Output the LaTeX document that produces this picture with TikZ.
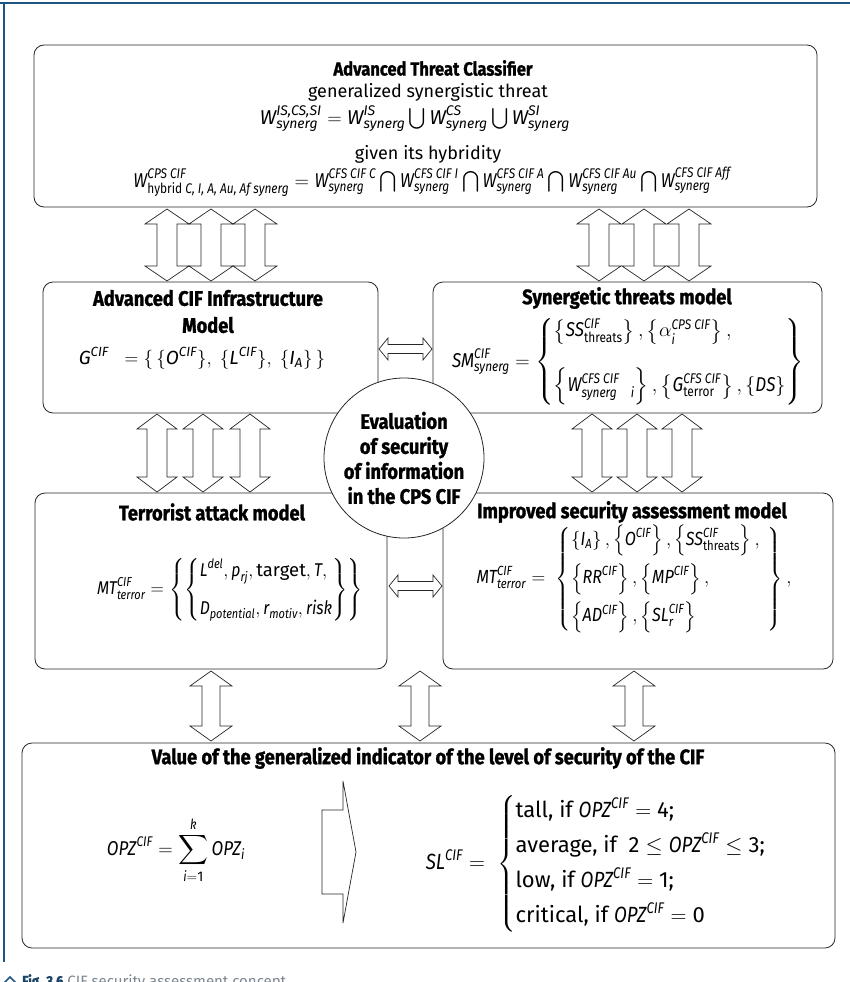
\RequirePackage{fix-cm}
\documentclass[tikz,border=0pt]{standalone}
\usepackage{amsmath}
\usepackage{fontspec}
\setmainfont{Fira Sans}[BoldFeatures={FakeStretch=0.87, FakeBold=1.2}]
\newfontfamily\fmfam{Fira Sans}[FakeStretch=0.85]
\newfontfamily\fmwfam{Fira Sans}
\newcommand\vi[1]{\text{\fmfam\itshape #1}}
\newcommand\vu[1]{\text{\fmfam #1}}
\definecolor{frameblue}{HTML}{1F5582}
\definecolor{capgray}{HTML}{7A8590}
\tikzset{
  frame/.style={draw=frameblue, line width=2.4pt},
  box/.style={draw=black!85, line width=0.8pt, rounded corners=10pt, fill=white, inner sep=0pt, outer sep=0pt},
  circ/.style={draw=black!85, line width=0.8pt, circle, fill=white, inner sep=0pt, align=center,
     font=\fontsize{21}{25}\selectfont\bfseries},
  ttl/.style={font=\fontsize{21}{27}\selectfont\bfseries, align=center, inner sep=0pt},
  txt/.style={font=\fontsize{18}{22}\selectfont, inner sep=0pt},
  fm/.style={font=\fontsize{20}{24}\selectfont, inner sep=0pt},
  blk/.style={draw=black!85, line width=0.7pt, fill=white, line join=miter},
}
% vertical double block arrow: x, ytop, ybottom, half head, half shaft, head length
\newcommand\dblV[6]{%
  \draw[blk] (#1,#2) -- (#1+#4,#2+#6) -- (#1+#5,#2+#6) -- (#1+#5,#3-#6) -- (#1+#4,#3-#6) -- (#1,#3)
    -- (#1-#4,#3-#6) -- (#1-#5,#3-#6) -- (#1-#5,#2+#6) -- (#1-#4,#2+#6) -- cycle;}
% horizontal double block arrow: y, xleft, xright, half head, half shaft, head length
\newcommand\dblH[6]{%
  \draw[blk] (#2,#1) -- (#2+#6,#1-#4) -- (#2+#6,#1-#5) -- (#3-#6,#1-#5) -- (#3-#6,#1-#4) -- (#3,#1)
    -- (#3-#6,#1+#4) -- (#3-#6,#1+#5) -- (#2+#6,#1+#5) -- (#2+#6,#1+#4) -- cycle;}
\begin{document}
\begin{tikzpicture}[x=1pt,y=-1pt]
\useasboundingbox (0,0) rectangle (850,982);
% frame
\draw[frame] (0,3) -- (850,3);
\draw[frame] (4,3) -- (4,962);

% ---------- top box ----------
\node[box, minimum width=783pt, minimum height=162pt] (top) at (425.5,126) {};
\node[ttl, font=\fontsize{19}{23}\selectfont\bfseries] (topT) at (433,68) {Advanced Threat Classifier};
\node[txt] (topL1) at (428,92) {generalized synergistic threat};
\node[fm, anchor=base, font=\fontsize{20}{24}\selectfont\let\fmfam\fmwfam] (topF1) at (415,124) {$\vi{W}^{\vi{IS,CS,SI}}_{\vi{synerg}} = \vi{W}^{\vi{IS}}_{\vi{synerg}} \bigcup \vi{W}^{\vi{CS}}_{\vi{synerg}} \bigcup \vi{W}^{\vi{SI}}_{\vi{synerg}}$};
\node[txt] (topL2) at (428,154) {given its hybridity};
\node[fm, anchor=base] (topF2) at (432,187) {$\vi{W}^{\vi{CPS CIF}}_{\vu{hybrid }\vi{C, I, A, Au, Af synerg}} = \vi{W}^{\vi{CFS CIF C}}_{\vi{synerg}} \bigcap \vi{W}^{\vi{CFS CIF I}}_{\vi{synerg}} \bigcap \vi{W}^{\vi{CFS CIF A}}_{\vi{synerg}} \bigcap \vi{W}^{\vi{CFS CIF Au}}_{\vi{synerg}} \bigcap \vi{W}^{\vi{CFS CIF Aff}}_{\vi{synerg}}$};

% ---------- arrows row 1 ----------
\dblV{167}{209}{281}{22}{10}{15}
\dblV{211}{209}{281}{22}{10}{15}
\dblV{255}{209}{281}{22}{10}{15}
\dblV{599}{209}{281}{22}{10}{15}
\dblV{644}{209}{281}{22}{10}{15}
\dblV{689}{209}{281}{22}{10}{15}

% ---------- middle boxes ----------
\node[box, minimum width=335pt, minimum height=131pt] (infra) at (210.5,347.5) {};
\node[ttl] (infraT) at (208,311.5) {Advanced CIF Infrastructure\\Model};
\node[fm, font=\fontsize{19}{23}\selectfont\let\fmfam\fmwfam] (infraF) at (202,358) {$\vi{G}^{\vi{CIF}} \;\;= \{\,\{\vi{O}^{\vi{CIF}}\},\ \{\vi{L}^{\vi{CIF}}\},\ \{\vi{I}_{\vi{A}}\}\,\}$};

\node[box, minimum width=389pt, minimum height=131pt] (syn) at (627.5,347.5) {};
\node[ttl] (synT) at (627,298) {Synergetic threats model};
\node[fm] (synF) at (628,362) {$\vi{SM}^{\vi{CIF}}_{\vi{synerg}} = \left\{\begin{array}{@{}l@{}}
  \left\{\vi{SS}^{\vi{CIF}}_{\vu{threats}}\right\},\left\{\alpha_{\vi{i}}^{\vi{CPS CIF}}\right\},\\[24pt]
  \left\{\vi{W}^{\vi{CFS CIF}}_{\vi{synerg\quad i}}\right\},\left\{\vi{G}^{\vi{CFS CIF}}_{\vu{terror}}\right\},\left\{\vi{DS}\right\}
  \end{array}\right\}$};

\dblH{349}{379}{432}{11}{4.5}{9}

% ---------- arrows row 2 ----------
\dblV{157}{414}{492}{20}{10}{15}
\dblV{203}{414}{492}{20}{10}{15}
\dblV{250}{414}{492}{20}{10}{15}
\dblV{592}{414}{492}{20}{10}{15}
\dblV{637}{414}{492}{20}{10}{15}
\dblV{682}{414}{492}{20}{10}{15}

% ---------- lower boxes ----------
\node[box, minimum width=352pt, minimum height=176pt] (terr) at (211,581) {};
\node[ttl] (terrT) at (212,512) {Terrorist attack model};
\node[fm, font=\fontsize{18.5}{22}\selectfont] (terrF) at (230,590) {$\vi{MT}^{\vi{CIF}}_{\vi{terror}} = \left\{\left\{\begin{array}{@{}l@{}}
  \vi{L}^{\vi{del}}, \vi{p}_{\vi{rj}}, \text{target}, \vi{T},\\[16pt]
  \vi{D}_{\vi{potential}}, \vi{r}_{\vi{motiv}}, \vi{risk}
  \end{array}\right\}\right\}$};

\node[box, minimum width=390pt, minimum height=176pt] (impr) at (638,581) {};
\node[ttl] (imprT) at (632,512) {Improved security assessment model};
\node[fm, font=\fontsize{19}{23}\selectfont] (imprF) at (634,579) {$\vi{MT}^{\vi{CIF}}_{\vi{terror}} =\; \left\{\begin{array}{@{}l@{\hspace{8pt}}}
  \left\{\vi{I}_{\vi{A}}\right\},\left\{\vi{O}^{\vi{CIF}}\right\},\left\{\vi{SS}^{\vi{CIF}}_{\vu{threats}}\right\},\\[11pt]
  \left\{\vi{RR}^{\vi{CIF}}\right\},\left\{\vi{MP}^{\vi{CIF}}\right\},\\[11pt]
  \left\{\vi{AD}^{\vi{CIF}}\right\},\left\{\vi{SL}^{\vi{CIF}}_{\vi{r}}\right\}
  \end{array}\right\},$};

\dblH{586}{389}{442}{11}{4.5}{9}

% ---------- circle ----------
\node[circ, minimum size=160pt] (eval) at (404,458) {Evaluation\\of security\\of information\\in the CPS CIF};

% ---------- arrows row 3 ----------
\dblV{211}{671}{741}{21}{9}{15}
\dblV{420}{671}{741}{21}{9}{15}
\dblV{634}{671}{741}{21}{9}{15}

% ---------- bottom box ----------
\node[box, minimum width=813pt, minimum height=205pt] (val) at (428.5,845.5) {};
\node[ttl] (valT) at (428,758) {Value of the generalized indicator of the level of security of the CIF};
\node[fm] (valF) at (176,850) {$\vi{OPZ}^{\vi{CIF}} = \displaystyle\sum_{\vi{i}=\text{1}}^{\vi{k}} \vi{OPZ}_{\vi{i}}$};
\draw[blk] (322,810) -- (343,810) -- (343,781) -- (356,852) -- (343,923) -- (343,894) -- (322,894) -- cycle;
\node[fm, font=\fontsize{22}{26}\selectfont] (slF) at (596,864) {$\vi{SL}^{\vi{CIF}} =\; \left\{\begin{array}{@{}l@{}}
  \text{tall, if } \vi{OPZ}^{\vi{CIF}} = \text{4;}\\[7pt]
  \text{average, if }\ \text{2} \le \vi{OPZ}^{\vi{CIF}} \le \text{3;}\\[7pt]
  \text{low, if } \vi{OPZ}^{\vi{CIF}} = \text{1;}\\[7pt]
  \text{critical, if } \vi{OPZ}^{\vi{CIF}} = \text{0}
  \end{array}\right.$};

% ---------- caption ----------
\draw[draw=frameblue, line width=1.6pt] (3,984) -- (10,977) -- (17,984);
\node[anchor=north west, inner sep=0pt, font=\fontsize{15}{17}\selectfont] (cap) at (22,974)
  {\textcolor{frameblue!80!black}{\bfseries Fig. 3.6} \textcolor{capgray}{CIF security assessment concept}};
\end{tikzpicture}
\end{document}
